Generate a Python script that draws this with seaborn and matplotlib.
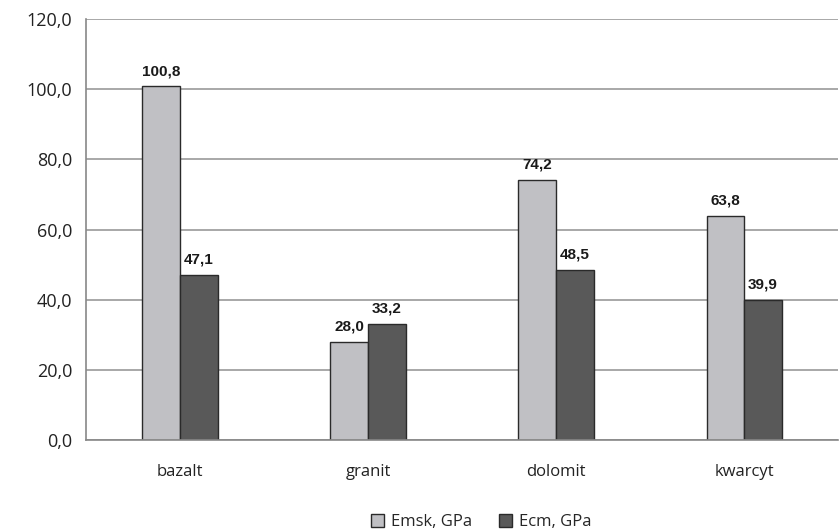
import pandas as pd
import matplotlib
matplotlib.use("Agg")
import matplotlib.pyplot as plt
import seaborn as sns

# data
rocks = ["bazalt", "granit", "dolomit", "kwarcyt"]
emsk = [100.8, 28.0, 74.2, 63.8]
ecm = [47.1, 33.2, 48.5, 39.9]
series = ["Emsk, GPa", "Ecm, GPa"]
yticks = [0, 20, 40, 60, 80, 100, 120]

df = pd.DataFrame({
    "rock": rocks * 2,
    "value": emsk + ecm,
    "series": [series[0]] * 4 + [series[1]] * 4,
})

sns.set_style("white")
plt.rcParams["font.family"] = ["Open Sans", "DejaVu Sans"]

fig = plt.figure(figsize=(8.39, 5.31), dpi=100)
ax = fig.add_axes([0.1025, 0.1714, 0.8965, 0.7926])

sns.barplot(data=df, x="rock", y="value", hue="series", ax=ax,
            palette=["#c0c0c4", "#595959"], width=0.4,
            edgecolor="#2a2a2a", linewidth=1.0, saturation=1)

for cont in ax.containers:
    ax.bar_label(cont, labels=[f"{v:.1f}".replace(".", ",") for v in cont.datavalues],
                 padding=6, fontsize=11, fontweight="bold",
                 family=["Liberation Sans", "DejaVu Sans"], color="#1a1a1a")

ax.set_ylim(0, 120)
ax.set_xlim(-0.5, 3.5)
ax.set_yticks(yticks)
ax.set_yticklabels([f"{t:.1f}".replace(".", ",") for t in yticks], fontsize=13, color="#222222")
ax.tick_params(axis="x", labelsize=12, colors="#222222", length=0, pad=17)
ax.set_xticks(range(4))
ax.set_xticklabels(rocks)
ax.set_xticks([-0.5, 0.5, 1.5, 2.5, 3.5], minor=True)
ax.tick_params(axis="x", which="minor", length=6, color="#888888", direction="out")
ax.tick_params(axis="y", length=6, color="#888888", direction="out", pad=4)
ax.set_xlabel("")
ax.set_ylabel("")

ax.yaxis.grid(True, color="#999999", linewidth=1.2)
ax.set_axisbelow(True)
for side in ["top", "right"]:
    ax.spines[side].set_visible(False)
for side in ["left", "bottom"]:
    ax.spines[side].set_color("#888888")
    ax.spines[side].set_linewidth(1.2)

ax.legend(loc="upper center", bbox_to_anchor=(0.525, -0.14), ncol=2, frameon=False,
          fontsize=12, handlelength=0.8, handleheight=0.8, columnspacing=1.6,
          handletextpad=0.4)

fig.savefig("out.png", dpi=100)
